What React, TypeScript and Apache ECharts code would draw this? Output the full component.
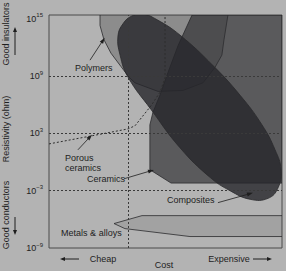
import React, { useEffect, useRef } from "react";
import * as echarts from "echarts";

// Y axis: resistivity exponent (10^n ohm); X axis: relative cost (0 = cheap, 100 = expensive)
const yMin = -9;
const yMax = 15.4;
const yInterval = 6;
const xMin = 0;
const xMax = 100;

const referenceLevels = [9, 3, -3];
const referenceCost = 33.9;

const polymers = [
  [21.9, 15.4], [21.9, 14.3], [23.6, 12.8], [26.6, 11.4], [30.9, 10.0], [34.3, 8.9],
  [36.9, 8.3], [46.8, 7.4], [57.5, 7.5], [66.1, 8.3], [71.2, 9.9], [74.2, 11.2],
  [75.1, 12.8], [76.8, 15.4],
];

const ceramics = [
  [61.4, 15.4], [55.4, 12.2], [51.1, 9.4], [47.6, 7.0], [44.6, 5.2], [43.3, 3.9],
  [43.3, -0.8], [52.4, -2.2], [100, -2.2], [100, 15.4],
];

const composites = [
  [29.6, 13.2], [31.8, 14.5], [35.6, 15.3], [40.3, 15.5], [46.4, 14.9], [56.2, 13.3],
  [70.4, 10.1], [82.0, 7.0], [91.4, 3.9], [97.0, 1.3], [99.6, -0.8], [98.3, -2.7],
  [94.0, -3.8], [86.3, -3.9], [77.7, -3.0], [69.1, -1.6], [56.2, 1.5], [43.8, 5.5],
  [33.9, 8.9], [30.5, 11.2],
];

const metals = [
  [27.9, -6.44], [39.9, -5.61], [100, -5.61], [100, -7.8], [60.5, -7.8], [32.6, -6.97],
];

const porousBoundary = [
  [0, 1.9], [20.6, 2.85], [33.9, 3.47], [36.9, 3.8], [43.8, 5.9], [47.6, 7.3],
  [49.8, 8.8], [49.8, 15.4],
];

const labelNames = ["Polymers", "Porous\nceramics", "Ceramics", "Composites", "Metals & alloys"];
const labelPositions = [
  [11.2, 9.84], [6.9, -0.08], [16.3, -1.75], [50.6, -3.94], [5.2, -7.38],
];
const arrows = [
  [[17.6, 10.67], [23.2, 12.76]],
  [[12.4, 1.28], [17.6, 2.64]],
  [[32.2, -1.75], [43.8, -0.91]],
  [[72.5, -4.25], [86.3, -3.31]],
];

const FONT = "Liberation Sans, Arial, Helvetica, sans-serif";
const TEXT = "#1e1e1e";
const EDGE = "#2a2a2c";

function polygonSeries(name: string, pts: number[][], fill: string, z: number, smooth = 0) {
  return {
    type: "custom",
    name,
    data: pts,
    z,
    clip: true,
    silent: true,
    renderItem: (params: any, api: any) => {
      if (params.dataIndex !== 0) return null;
      const points = pts.map((p) => api.coord(p));
      return {
        type: "polygon",
        shape: { points, smooth },
        style: { fill, stroke: EDGE, lineWidth: 0.8 },
      };
    },
  };
}

function arrowHead(tip: number[], dir: "up" | "down" | "left" | "right") {
  const [x, y] = tip;
  let pts: number[][];
  if (dir === "up") pts = [[x, y], [x - 2, y + 5], [x + 2, y + 5]];
  else if (dir === "down") pts = [[x, y], [x - 2, y - 5], [x + 2, y - 5]];
  else if (dir === "left") pts = [[x, y], [x + 5, y - 2], [x + 5, y + 2]];
  else pts = [[x, y], [x - 5, y - 2], [x - 5, y + 2]];
  return { type: "polygon", shape: { points: pts }, style: { fill: TEXT } };
}

export default function App() {
  const ref = useRef<HTMLDivElement>(null);
  useEffect(() => {
    if (!ref.current) return;
    const chart = echarts.init(ref.current, null, { renderer: "svg" });
    const textStyle = (text: string) => ({ text, fill: TEXT, font: `9px ${FONT}`, align: "center", verticalAlign: "middle" });
    const option: any = {
      animation: false,
      backgroundColor: "#b3b3b3",
      grid: {
        left: 49, right: 4, top: 15, bottom: 23,
        show: true, borderColor: "#4a4a4a", borderWidth: 1, backgroundColor: "transparent",
        containLabel: false,
      },
      xAxis: {
        type: "value", min: xMin, max: xMax,
        axisLine: { show: false }, axisTick: { show: false }, axisLabel: { show: false }, splitLine: { show: false },
      },
      yAxis: {
        type: "value", min: yMin, max: yMax, interval: yInterval,
        axisLine: { show: false }, axisTick: { show: false }, splitLine: { show: false },
        axisLabel: {
          margin: 6,
          formatter: (v: number) => (v > yMax ? "" : `{b|10}{s|${String(v).replace("-", "−")}}`),
          rich: {
            b: { fontSize: 9, fontFamily: FONT, color: TEXT, lineHeight: 13, verticalAlign: "middle" },
            s: { fontSize: 6, fontFamily: FONT, color: TEXT, lineHeight: 13, verticalAlign: "top" },
          },
        },
      },
      series: [
        polygonSeries("Polymers", polymers, "#8c8c8c", 1),
        polygonSeries("Ceramics", ceramics, "rgba(45,45,48,0.667)", 2),
        polygonSeries("Metals & alloys", metals, "#a2a2a2", 2),
        polygonSeries("Composites", composites, "rgba(38,38,42,0.8)", 3, 0.45),
        {
          type: "line",
          name: "Porous ceramics",
          data: porousBoundary,
          z: 4,
          silent: true,
          symbol: "none",
          lineStyle: { color: "#2e2e2e", width: 1, type: [2, 2] },
          markLine: {
            silent: true,
            symbol: ["none", "none"],
            label: { show: false },
            lineStyle: { color: "#3a3a3a", width: 1, type: [2, 2] },
            data: [
              ...referenceLevels.map((y) => ({ yAxis: y })),
              { xAxis: referenceCost },
              ...arrows.map(([a, b]) => [
                { coord: a, symbol: "none", lineStyle: { type: "solid", color: TEXT, width: 0.8 } },
                { coord: b, symbol: "triangle", symbolSize: [4, 6], symbolRotate: undefined },
              ]),
            ],
          },
        },
        {
          type: "custom",
          name: "labels",
          data: labelPositions,
          z: 6,
          silent: true,
          renderItem: (params: any, api: any) => {
            const p = api.coord([api.value(0), api.value(1)]);
            return {
              type: "text",
              x: p[0], y: p[1],
              style: { text: labelNames[params.dataIndex], fill: TEXT, font: `9px ${FONT}`, align: "left", verticalAlign: "middle", lineHeight: 10 },
            };
          },
        },
      ],
      graphic: [
        { type: "text", x: 6, y: 34, rotation: Math.PI / 2, style: textStyle("Good insulators") },
        { type: "text", x: 6, y: 129, rotation: Math.PI / 2, style: textStyle("Resistivity (ohm)") },
        { type: "text", x: 6, y: 215, rotation: Math.PI / 2, style: textStyle("Good conductors") },
        { type: "line", shape: { x1: 15, y1: 55, x2: 15, y2: 31 }, style: { stroke: TEXT, lineWidth: 1 } },
        arrowHead([15, 27], "up"),
        { type: "line", shape: { x1: 15, y1: 217, x2: 15, y2: 231 }, style: { stroke: TEXT, lineWidth: 1 } },
        arrowHead([15, 235], "down"),
        { type: "text", x: 103, y: 259, style: textStyle("Cheap") },
        { type: "line", shape: { x1: 79, y1: 259, x2: 64, y2: 259 }, style: { stroke: TEXT, lineWidth: 1 } },
        arrowHead([60, 259], "left"),
        { type: "text", x: 164, y: 265, style: textStyle("Cost") },
        { type: "text", x: 229, y: 259, style: textStyle("Expensive") },
        { type: "line", shape: { x1: 253, y1: 259, x2: 268, y2: 259 }, style: { stroke: TEXT, lineWidth: 1 } },
        arrowHead([272, 259], "right"),
      ],
    };
    chart.setOption(option);
    return () => chart.dispose();
  }, []);
  return (
    <div style={{ position: "fixed", left: 0, top: 0, width: 286, height: 271, background: "#b3b3b3" }}>
      <div ref={ref} style={{ width: 286, height: 271 }} />
    </div>
  );
}
